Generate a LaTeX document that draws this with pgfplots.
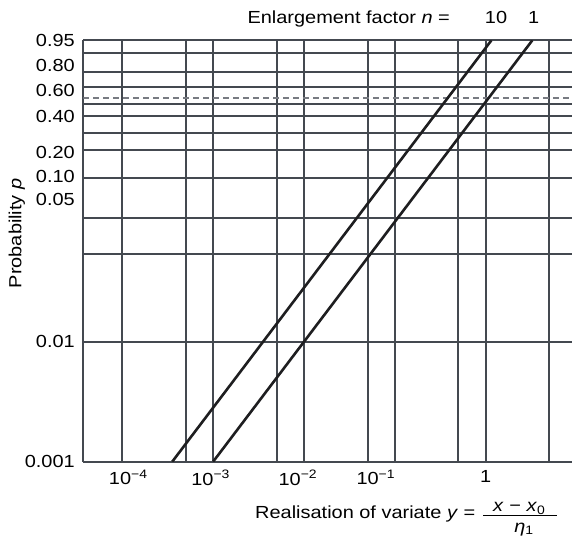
\documentclass[border=0pt]{standalone}
\usepackage{fontspec}
\setmainfont[FakeStretch=1.14]{Liberation Sans}
\usepackage{pgfplots}
\pgfplotsset{compat=1.18}
\definecolor{gridc}{RGB}{68,73,80}
\definecolor{linec}{RGB}{30,30,32}
\definecolor{dashc}{RGB}{120,123,130}
\newcommand{\lbl}{\fontsize{17.5}{21}\selectfont}
\begin{document}
\begin{tikzpicture}
\begin{axis}[
  at={(0pt,0pt)}, anchor=south west,
  scale only axis, width=488.7pt, height=421.4pt,
  xmode=log, xmin=3.73e-5, xmax=8.88,
  ymin=-3, ymax=0.512,
  axis x line*=bottom, axis y line*=left,
  axis line style={-, line width=2pt, color=gridc},
  xtick={1e-4,5e-4,1e-3,5e-3,1e-2,5e-2,0.1,0.5,1,5},
  xticklabels={},
  ytick={-3,-2,-1.273,-0.9675,-0.636,-0.405,-0.261,-0.119,-0.015,0.12,0.25,0.403,0.512},
  yticklabels={},
  major tick length=0pt,
  grid=major,
  major grid style={line width=2pt, color=gridc},
  tick label style={font=\lbl, text=black},
  extra x ticks={1.164e-4,9.4e-4,8.57e-3,6.17e-2,0.995},
  extra x tick labels={10\textsuperscript{−4},10\textsuperscript{−3},10\textsuperscript{−2},10\textsuperscript{−1},1},
  extra y ticks={-3,-2,-0.811,-0.625,-0.425,-0.125,0.092,0.30,0.508},
  extra y tick labels={0.001,0.01,0.05,0.10,0.20,0.40,0.60,0.80,0.95},
  extra tick style={grid=none, major tick length=0pt},
  xticklabel style={yshift=-5pt},
  yticklabel style={xshift=-5pt},
]
\addplot[dashc, line width=1.8pt, dash pattern=on 6pt off 4pt] coordinates {(3.73e-5,0.028) (8.88,0.028)};
\addplot[linec, line width=2.6pt] coordinates {(3.548e-4,-3) (1.153,0.512)};
\addplot[linec, line width=2.6pt] coordinates {(1e-3,-3) (3.251,0.512)};
\end{axis}
\node[anchor=base west, font=\lbl, inner sep=0pt] at (164pt,437.7pt) {Enlargement factor \textit{n} =};
\node[anchor=base, font=\lbl, inner sep=0pt] at (412.7pt,437.7pt) {10};
\node[anchor=base, font=\lbl, inner sep=0pt] at (450.4pt,437.7pt) {1};
\node[anchor=base, rotate=90, font=\lbl, inner sep=0pt] at (-62pt,228.4pt) {Probability \textit{p}};
\node[anchor=base west, font=\lbl, inner sep=0pt] at (171.7pt,-56.8pt) {Realisation of variate \textit{y} =};
\node[anchor=base, font=\lbl, inner sep=0pt] at (436pt,-50pt) {\textit{x} − \textit{x}\textsubscript{0}};
\draw[line width=0.9pt] (400pt,-53.6pt) -- (474pt,-53.6pt);
\node[anchor=base, font=\lbl, inner sep=0pt] at (440.7pt,-70.3pt) {\textit{η}\textsubscript{1}};
\pgfresetboundingbox
\path[use as bounding box] (-83.3pt,-77.3pt) rectangle (488.7pt,461.7pt);
\end{tikzpicture}
\end{document}
